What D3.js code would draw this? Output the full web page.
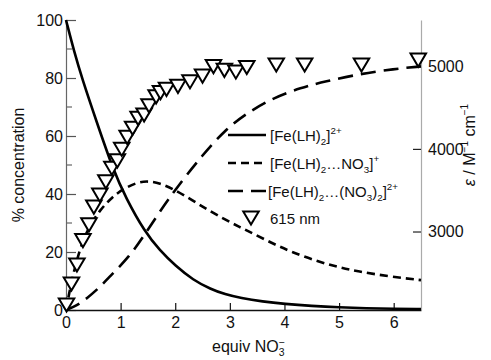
<!DOCTYPE html>
<html>
<head>
<meta charset="utf-8">
<script src="https://cdn.jsdelivr.net/npm/d3@7"></script>
<style>
  body { margin: 0; background: #fff; }
  svg { font-family: "Liberation Sans", Arial, sans-serif; }
</style>
</head>
<body>
<svg id="chart" width="491" height="360"></svg>
<script>
// species distribution (% concentration) vs equiv NO3-
const freeFe = [
  [0, 100], [0.15, 89], [0.3, 79.5], [0.55, 65.5], [0.86, 48.5], [1.1, 38.5],
  [1.44, 27], [1.72, 20.5], [2.0, 15.3], [2.33, 10.3], [2.65, 7.2], [2.91, 5.4],
  [3.2, 4.1], [3.6, 2.9], [4.0, 2.1], [4.5, 1.4], [5.0, 0.9], [5.5, 0.6], [6.0, 0.4], [6.5, 0.3]
];
const monoNO3 = [
  [0, 0], [0.1, 10], [0.25, 21], [0.4, 28], [0.62, 34.5], [0.85, 39], [1.05, 41.8],
  [1.3, 44], [1.5, 44.5], [1.72, 43.7], [1.96, 41.8], [2.3, 38], [2.6, 34.5],
  [2.91, 31.2], [3.18, 28.6], [3.42, 26.4], [3.8, 22.8], [4.13, 20], [4.6, 16.8],
  [5.0, 14.7], [5.34, 13.3], [5.9, 11.6], [6.5, 10.3]
];
const bisNO3 = [
  [0, 0], [0.2, 1.5], [0.38, 4], [0.6, 7.5], [0.8, 11.5], [1.17, 18.6], [1.44, 26],
  [1.72, 34], [2.0, 41.5], [2.5, 53.5], [2.91, 62], [3.3, 67.8], [3.82, 73.4],
  [4.3, 76.6], [4.73, 78.8], [5.41, 81.5], [6.0, 83.1], [6.5, 84]
];
// absorbance at 615 nm (epsilon, M-1 cm-1)
const eps615 = [
  [0.01, 2110], [0.10, 2365], [0.20, 2595], [0.31, 2890], [0.42, 3080], [0.51, 3295],
  [0.62, 3440], [0.73, 3600], [0.84, 3765], [0.94, 3855], [1.02, 3995], [1.12, 4140],
  [1.22, 4250], [1.32, 4370], [1.43, 4410], [1.52, 4520], [1.65, 4630], [1.73, 4680],
  [1.84, 4720], [2.05, 4757], [2.27, 4812], [2.50, 4880], [2.70, 4995], [2.90, 4950],
  [3.11, 4930], [3.31, 4985], [3.85, 5015], [4.37, 5015], [5.41, 5015], [6.45, 5075]
];
const xTicks = [0, 1, 2, 3, 4, 5, 6];
const yTicks = [0, 20, 40, 60, 80, 100];
const yMinorTicks = [10, 30, 50, 70, 90];
const rightTicks = [3000, 4000, 5000];

const svg = d3.select('#chart');

const x = d3.scaleLinear().domain([0, 6.5]).range([66, 421]);
const y = d3.scaleLinear().domain([0, 100]).range([310, 20]);
const yR = d3.scaleLinear().domain([2050, 5560]).range([310, 20]);

// left axis
const left = svg.append('g')
  .attr('transform', 'translate(' + x(0) + ',0)')
  .call(d3.axisLeft(y).tickValues(yTicks).tickSizeInner(-10).tickSizeOuter(0).tickPadding(3));
left.select('.domain').attr('stroke', '#666').attr('stroke-width', 1.2);
left.selectAll('.tick line').attr('stroke', '#555').attr('stroke-width', 1.2);
left.selectAll('.tick text').attr('font-size', 16).attr('fill', '#111')
  .attr('font-family', '"Liberation Sans", Arial, sans-serif');
left.selectAll('.minor')
  .data(yMinorTicks)
  .enter()
  .append('line')
  .attr('x1', 0).attr('x2', 6)
  .attr('y1', d => y(d)).attr('y2', d => y(d))
  .attr('stroke', '#666').attr('stroke-width', 1.2);

// bottom axis
const bottom = svg.append('g')
  .attr('transform', 'translate(0,' + y(0) + ')')
  .call(d3.axisBottom(x).tickValues(xTicks).tickFormat(d3.format('d'))
    .tickSizeInner(-7).tickSizeOuter(0).tickPadding(7));
bottom.select('.domain').attr('stroke', '#111').attr('stroke-width', 1.4);
bottom.selectAll('.tick line').attr('stroke', '#111').attr('stroke-width', 1.2);
bottom.selectAll('.tick text').attr('font-size', 16).attr('fill', '#111')
  .attr('font-family', '"Liberation Sans", Arial, sans-serif');

// right axis
const right = svg.append('g')
  .attr('transform', 'translate(' + x(6.5) + ',0)')
  .call(d3.axisRight(yR).tickValues(rightTicks).tickFormat(d3.format('d'))
    .tickSizeInner(-8).tickSizeOuter(0).tickPadding(7));
right.select('.domain').attr('stroke', '#aaa').attr('stroke-width', 1.2);
right.selectAll('.tick line').attr('stroke', '#222').attr('stroke-width', 1.2);
right.selectAll('.tick text').attr('font-size', 16).attr('fill', '#111')
  .attr('font-family', '"Liberation Sans", Arial, sans-serif');

// curves
const line = d3.line()
  .x(d => x(d[0]))
  .y(d => y(d[1]))
  .curve(d3.curveBasis);

const series = [
  { data: freeFe, dash: null },
  { data: monoNO3, dash: '8,5' },
  { data: bisNO3, dash: '15,8' }
];
svg.append('g').selectAll('path')
  .data(series)
  .enter()
  .append('path')
  .attr('d', d => line(d.data))
  .attr('fill', 'none')
  .attr('stroke', '#000')
  .attr('stroke-width', 2.6)
  .attr('stroke-dasharray', d => d.dash);

// inverted triangle, centred on its bounding box
const downTriangle = {
  draw(ctx, size) {
    const w = Math.sqrt(size), h = w * 0.85;
    ctx.moveTo(-w / 2, -h / 2);
    ctx.lineTo(w / 2, -h / 2);
    ctx.lineTo(0, h / 2);
    ctx.closePath();
  }
};
const sym = d3.symbol().type(downTriangle).size(240);

svg.append('g').selectAll('path')
  .data(eps615)
  .enter()
  .append('path')
  .attr('transform', d => 'translate(' + x(d[0]) + ',' + yR(d[1]) + ')')
  .attr('d', sym)
  .attr('fill', '#fff')
  .attr('stroke', '#000')
  .attr('stroke-width', 2);

// legend
const legend = svg.append('g');
const rowsY = [135, 163, 191, 218];
legend.selectAll('line')
  .data(series)
  .enter()
  .append('line')
  .attr('x1', 228).attr('x2', 266)
  .attr('y1', (d, i) => rowsY[i]).attr('y2', (d, i) => rowsY[i])
  .attr('stroke', '#000').attr('stroke-width', 2.6)
  .attr('stroke-dasharray', (d, i) => i === 0 ? null : (i === 1 ? '8,5' : '15,8'));
legend.append('path')
  .attr('transform', 'translate(251,' + rowsY[3] + ')')
  .attr('d', sym)
  .attr('fill', '#fff').attr('stroke', '#000').attr('stroke-width', 2);

function richText(g, tx, ty, parts, size) {
  const t = g.append('text').attr('x', tx).attr('y', ty).attr('font-size', size).attr('fill', '#111');
  parts.forEach(p => {
    const s = t.append('tspan').text(p.t);
    if (p.sub) s.attr('font-size', size * 0.65).attr('dy', 4);
    if (p.sup) s.attr('font-size', size * 0.65).attr('dy', p.dy || -7);
    if (p.back) s.attr('dy', p.back);
    if (p.dx) s.attr('dx', p.dx);
  });
  return t;
}
richText(legend, 270, rowsY[0] + 6, [
  { t: '[Fe(LH)' }, { t: '2', sub: true }, { t: ']', back: -4 }, { t: '2+', sup: true }
], 15);
richText(legend, 270, rowsY[1] + 6, [
  { t: '[Fe(LH)' }, { t: '2', sub: true }, { t: '…NO', back: -4 }, { t: '3', sub: true },
  { t: ']', back: -4 }, { t: '+', sup: true }
], 15);
richText(legend, 268, rowsY[2] + 6, [
  { t: '[Fe(LH)' }, { t: '2', sub: true }, { t: '…(NO', back: -4 }, { t: '3', sub: true },
  { t: ')', back: -4 }, { t: '2', sub: true }, { t: ']', back: -4 }, { t: '2+', sup: true }
], 15);
richText(legend, 270, rowsY[3] + 6, [{ t: '615 nm' }], 15);

// axis titles
svg.append('text')
  .attr('transform', 'translate(24,165) rotate(-90)')
  .attr('text-anchor', 'middle')
  .attr('font-size', 16).attr('fill', '#111')
  .text('% concentration');

richText(svg, 212, 352, [
  { t: 'equiv NO' }, { t: '3', sub: true }, { t: '−', sup: true, dx: -6, dy: -10 }
], 16);

const rt = svg.append('text')
  .attr('transform', 'translate(475,145) rotate(-90)')
  .attr('text-anchor', 'middle')
  .attr('font-size', 16).attr('fill', '#111');
rt.append('tspan').attr('font-style', 'italic').text('ε');
rt.append('tspan').text(' / M');
rt.append('tspan').attr('font-size', 10).attr('dy', -7).text('−1');
rt.append('tspan').attr('dy', 7).text(' cm');
rt.append('tspan').attr('font-size', 10).attr('dy', -7).text('−1');
</script>
</body>
</html>
